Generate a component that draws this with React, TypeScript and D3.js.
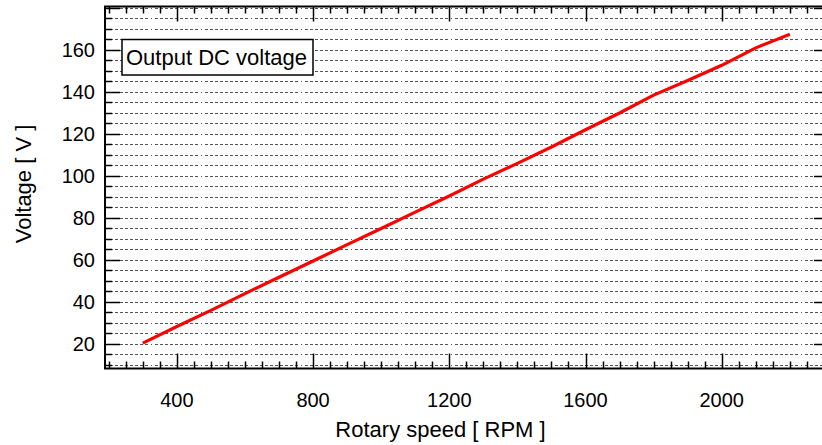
import React from "react";
import * as d3 from "d3";

const rpm = [300, 400, 500, 600, 700, 800, 900, 1000, 1100, 1200, 1300, 1400, 1500, 1600, 1700, 1800, 1900, 2000, 2100, 2200];
const voltage = [20.4, 28.3, 36, 44, 51.8, 59.5, 67.3, 75, 82.8, 90.5, 98.5, 106, 113.8, 122, 130, 138.5, 145.5, 152.7, 161, 167.5];
const xTickLabels = [400, 800, 1200, 1600, 2000];
const yTickLabels = [20, 40, 60, 80, 100, 120, 140, 160];
const legendLabel = "Output DC voltage";
const xTitle = "Rotary speed [ RPM ]";
const yTitle = "Voltage [ V ]";

const W = 822;
const H = 445;
const L = 105;
const R = 829;
const T = 6.5;
const B = 368.5;

export default function App() {
  const x = d3.scaleLinear().domain([189, 2315]).range([L, R]);
  const y = d3.scaleLinear().domain([8.33, 180.7]).range([B, T]);

  const xMinor = d3.range(200, 2301, 50);
  const yMinor = d3.range(10, 181, 5);

  const line = d3
    .line<number>()
    .x((_, i) => x(rpm[i]))
    .y((d) => y(d))
    .curve(d3.curveLinear);

  const font = "'Liberation Sans', Arial, Helvetica, sans-serif";
  const dash = "3,2,3,2,3,2,3,2,3,2,3,2,3,2,3,2,3,3,1,3";

  const isMajorX = (v: number) => v % 400 === 0;
  const isMajorY = (v: number) => v % 20 === 0;

  return (
    <div style={{ position: "fixed", left: 0, top: 0 }}>
      <svg width={W} height={H} style={{ display: "block", background: "#fff" }}>
        {/* grid */}
        {yMinor.map((v) => (
          <line
            key={"g" + v}
            x1={L}
            x2={R}
            y1={Math.round(y(v)) + 0.5}
            y2={Math.round(y(v)) + 0.5}
            stroke="#555"
            strokeWidth={1}
            strokeDasharray={dash}
          />
        ))}
        {/* data line */}
        <path d={line(voltage) || ""} fill="none" stroke="#ff0000" strokeWidth={3.2} strokeLinejoin="round" />
        {/* legend */}
        <rect x={122} y={39.5} width={191} height={35.5} fill="#fff" stroke="#000" strokeWidth={1.5} />
        <text x={126} y={65} fontFamily={font} fontSize={22} fill="#000">
          {legendLabel}
        </text>
        {/* bottom & top ticks */}
        {xMinor.map((v) => {
          const len = isMajorX(v) ? 15 : 7;
          const px = Math.round(x(v)) + 0.5;
          return (
            <g key={"xt" + v}>
              <line x1={px} x2={px} y1={B} y2={B - len} stroke="#000" strokeWidth={1.5} />
              <line x1={px} x2={px} y1={T} y2={T + len} stroke="#000" strokeWidth={1.5} />
            </g>
          );
        })}
        {/* left & right ticks */}
        {yMinor.map((v) => {
          const len = isMajorY(v) ? 15 : 7;
          const py = Math.round(y(v)) + 0.5;
          return (
            <g key={"yt" + v}>
              <line x1={L} x2={L + len} y1={py} y2={py} stroke="#000" strokeWidth={1.5} />
              <line x1={R} x2={R - len} y1={py} y2={py} stroke="#000" strokeWidth={1.5} />
            </g>
          );
        })}
        {/* frame */}
        <rect x={L} y={T} width={R - L} height={B - T} fill="none" stroke="#000" strokeWidth={2} />
        {/* tick labels */}
        {xTickLabels.map((v) => (
          <text key={"xl" + v} x={x(v)} y={407} textAnchor="middle" fontFamily={font} fontSize={20} fill="#000">
            {v}
          </text>
        ))}
        {yTickLabels.map((v) => (
          <text key={"yl" + v} x={95} y={y(v)} dy="0.35em" textAnchor="end" fontFamily={font} fontSize={20} fill="#000">
            {v}
          </text>
        ))}
        {/* axis titles */}
        <text x={440.5} y={437} textAnchor="middle" fontFamily={font} fontSize={22} fill="#000">
          {xTitle}
        </text>
        <text
          transform={`translate(31, 184) rotate(-90)`}
          textAnchor="middle"
          fontFamily={font}
          fontSize={22}
          fill="#000"
        >
          {yTitle}
        </text>
      </svg>
    </div>
  );
}
